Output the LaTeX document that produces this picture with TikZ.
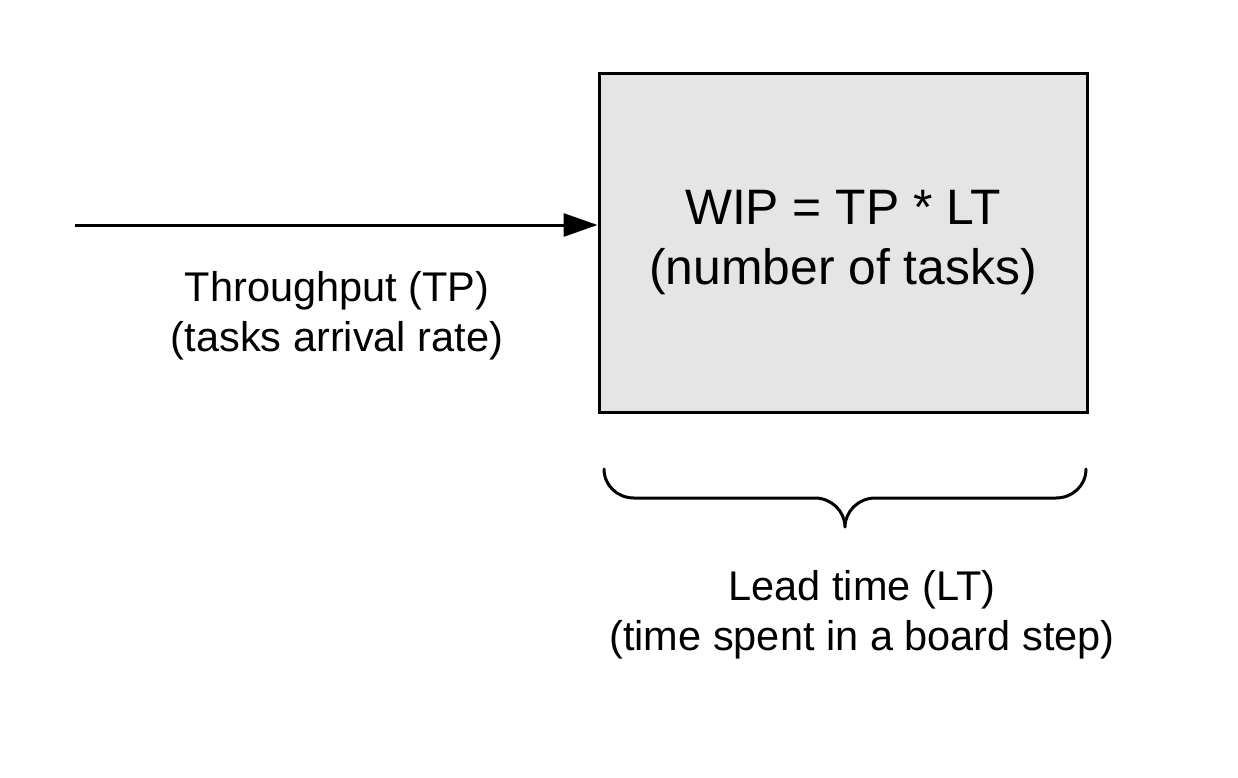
\documentclass[tikz,border=0pt]{standalone}
\usepackage{fontspec}
\setmainfont{Liberation Sans}
\usetikzlibrary{arrows.meta}
\definecolor{boxfill}{RGB}{229,229,229}
\begin{document}
\begin{tikzpicture}[x=1pt,y=-1pt,
  boxstyle/.style={draw=black, line width=3pt, fill=boxfill, minimum width=488pt, minimum height=338pt, inner sep=0pt, align=center, font=\fontsize{49.8}{60}\selectfont},
  smalltext/.style={align=center, inner sep=0pt, font=\fontsize{41.5}{50}\selectfont},
  conn/.style={line width=3pt, -{Triangle[length=34pt,width=23pt]}},
  bracestyle/.style={line width=3pt, line cap=round, line join=round}]
\useasboundingbox (0,0) rectangle (1238,778);
\fill[white] (0,0) rectangle (1238,778);
\node[boxstyle] (box) at (843,243) {WIP = TP * LT\\(number of tasks)};
\coordinate (tpstart) at (75,225);
\draw[conn] (tpstart) -- (tpstart -| box.west);
\node[smalltext] (tp) at (337,316) {Throughput (TP)\\(tasks arrival rate)};
\draw[bracestyle] (604,469) .. controls (604,485.5) and (617.5,498) .. (634,498) -- (815,498)
  .. controls (831.5,498) and (845,511.5) .. (845,527)
  .. controls (845,511.5) and (858.5,498) .. (875,498) -- (1056,498)
  .. controls (1072.5,498) and (1086,485.5) .. (1086,469);
\node[smalltext] (lt) at (862,615) {Lead time (LT)\\(time spent in a board step)};
\end{tikzpicture}
\end{document}
